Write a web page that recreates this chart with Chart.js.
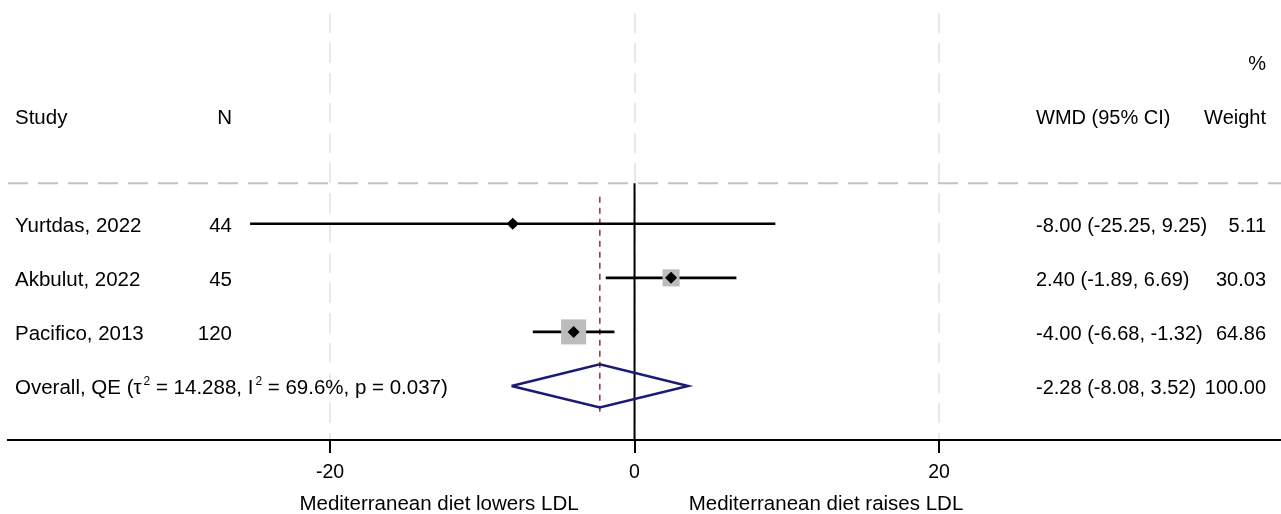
<!DOCTYPE html>
<html>
<head>
<meta charset="utf-8">
<script src="https://cdn.jsdelivr.net/npm/chart.js@4.4.1/dist/chart.umd.min.js"></script>
<style>
  html, body { margin: 0; padding: 0; background: #fff; }
  #wrap { width: 1281px; height: 514px; position: relative; }
  canvas { display: block; }
</style>
</head>
<body>
<div id="wrap"><canvas id="forest" width="1281" height="514"></canvas></div>
<script>
// ---- study-level results (weighted mean difference in LDL) ----
const studies    = ['Yurtdas, 2022', 'Akbulut, 2022', 'Pacifico, 2013'];
const sampleSize = [44, 45, 120];
const wmd        = [-8.00, 2.40, -4.00];
const ciLower    = [-25.25, -1.89, -6.68];
const ciUpper    = [9.25, 6.69, -1.32];
const weightPct  = [5.11, 30.03, 64.86];

// ---- pooled estimate ----
const overallLabel  = 'Overall, QE';
const overallWmd    = -2.28;
const overallLower  = -8.08;
const overallUpper  = 3.52;
const overallWeight = 100.00;
const tau2   = 14.288;
const i2     = 69.6;
const pValue = 0.037;

// ---- axis ----
const xTicks = [-20, 0, 20];
const favourLabels = ['Mediterranean diet lowers LDL', 'Mediterranean diet raises LDL'];

// ---- layout ----
const FONT = "'Liberation Sans', Arial, Helvetica, sans-serif";
const LEFT_SIZE = 20.5, RIGHT_SIZE = 20;
const X_MIN = -41.15, X_MAX = 42.46;
const Y_TOP = -2.9, Y_BOTTOM = 5;
const SEPARATOR_ROW = 0.25;
const COL_STUDY = 15, COL_N = 232, COL_EST = 1036, COL_WEIGHT = 1266;
const FAVOUR_X = [439, 826];

const rows = studies.map((_, i) => i + 1);
const overallRow = studies.length + 1;

const lineStyle = (color, width, dash) => ({
  showLine: true, fill: false, borderColor: color, borderWidth: width,
  borderDash: dash || [], pointRadius: 0, pointHoverRadius: 0, tension: 0
});

const datasets = [];

// dashed separator under the header
datasets.push(Object.assign({
  data: [{ x: X_MIN, y: SEPARATOR_ROW }, { x: X_MAX, y: SEPARATOR_ROW }], order: 9
}, lineStyle('#c2c2c2', 2, [20, 10])));

// line of no effect
datasets.push(Object.assign({
  data: [{ x: 0, y: SEPARATOR_ROW }, { x: 0, y: Y_BOTTOM }], order: 8
}, lineStyle('#000', 2)));

// pooled estimate reference line
datasets.push(Object.assign({
  data: [{ x: overallWmd, y: 0.5 }, { x: overallWmd, y: overallRow + 0.5 }], order: 7
}, lineStyle('#a23a46', 1.6, [6, 5])));

// confidence intervals
rows.forEach((r, i) => {
  datasets.push(Object.assign({
    data: [{ x: ciLower[i], y: r }, { x: ciUpper[i], y: r }], order: 6
  }, lineStyle('#000', 2.6)));
});

// weight boxes (area proportional to weight)
datasets.push({
  data: rows.map((r, i) => ({ x: wmd[i], y: r })),
  pointStyle: 'rect',
  pointRadius: weightPct.map(w => 2.2 * Math.sqrt(w)),
  pointHoverRadius: weightPct.map(w => 2.2 * Math.sqrt(w)),
  backgroundColor: '#bcbcbc', borderWidth: 0, showLine: false, order: 5
});

// point estimates
datasets.push({
  data: rows.map((r, i) => ({ x: wmd[i], y: r })),
  pointStyle: 'rectRot', pointRadius: 6, pointHoverRadius: 6,
  backgroundColor: '#000', borderWidth: 0, showLine: false, order: 4
});

// pooled diamond
datasets.push(Object.assign({
  data: [
    { x: overallLower, y: overallRow },
    { x: overallWmd, y: overallRow - 0.4 },
    { x: overallUpper, y: overallRow },
    { x: overallWmd, y: overallRow + 0.4 },
    { x: overallLower, y: overallRow }
  ],
  borderJoinStyle: 'miter', order: 3
}, lineStyle('#1b1b70', 2.5)));

const fmt = v => v.toFixed(2);

const tablePlugin = {
  id: 'forestTable',
  afterDraw(chart) {
    const { ctx, scales: { y } } = chart;
    const rowY = r => y.getPixelForValue(r) + 8.5;
    const leftFont = `${LEFT_SIZE}px ${FONT}`;
    const rightFont = `${RIGHT_SIZE}px ${FONT}`;
    ctx.save();
    ctx.fillStyle = '#000';
    ctx.textBaseline = 'alphabetic';
    const put = (t, x, r, align, font) => {
      ctx.font = font; ctx.textAlign = align; ctx.fillText(t, x, rowY(r));
    };

    put('%', COL_WEIGHT, -2, 'right', rightFont);
    put('Study', COL_STUDY, -1, 'left', leftFont);
    put('N', COL_N, -1, 'right', leftFont);
    put('WMD (95% CI)', COL_EST, -1, 'left', rightFont);
    put('Weight', COL_WEIGHT, -1, 'right', rightFont);

    rows.forEach((r, i) => {
      put(studies[i], COL_STUDY, r, 'left', leftFont);
      put(String(sampleSize[i]), COL_N, r, 'right', leftFont);
      put(`${fmt(wmd[i])} (${fmt(ciLower[i])}, ${fmt(ciUpper[i])})`, COL_EST, r, 'left', rightFont);
      put(fmt(weightPct[i]), COL_WEIGHT, r, 'right', rightFont);
    });

    // pooled row label with superscripts
    const runs = [
      [`${overallLabel} (τ`, false],
      ['2', true],
      [` = ${tau2.toFixed(3)}, I`, false],
      ['2', true],
      [` = ${i2.toFixed(1)}%, p = ${pValue.toFixed(3)})`, false]
    ];
    let cx = COL_STUDY;
    const by = rowY(overallRow);
    ctx.textAlign = 'left';
    runs.forEach(([t, sup]) => {
      if (sup) {
        ctx.font = `12px ${FONT}`;
        cx += 2;
        ctx.fillText(t, cx, by - 9);
        cx += ctx.measureText(t).width;
      } else {
        ctx.font = leftFont;
        ctx.fillText(t, cx, by);
        cx += ctx.measureText(t).width;
      }
    });
    put(`${fmt(overallWmd)} (${fmt(overallLower)}, ${fmt(overallUpper)})`, COL_EST, overallRow, 'left', rightFont);
    put(fmt(overallWeight), COL_WEIGHT, overallRow, 'right', rightFont);

    // direction labels under the axis
    ctx.font = leftFont;
    ctx.textAlign = 'center';
    ctx.fillText(favourLabels[0], FAVOUR_X[0], 510);
    ctx.fillText(favourLabels[1], FAVOUR_X[1], 510);
    ctx.restore();
  }
};

new Chart(document.getElementById('forest'), {
  type: 'scatter',
  data: { datasets },
  options: {
    responsive: false,
    animation: false,
    devicePixelRatio: 1,
    events: [],
    layout: { autoPadding: false, padding: { left: 8, right: 0, top: 13, bottom: 0 } },
    plugins: { legend: { display: false }, tooltip: { enabled: false }, title: { display: false } },
    scales: {
      x: {
        type: 'linear',
        position: 'bottom',
        min: X_MIN, max: X_MAX,
        afterBuildTicks: s => { s.ticks = xTicks.map(v => ({ value: v })); },
        afterFit: s => { s.height = 74; },
        ticks: {
          color: '#000', font: { family: FONT, size: 19.5 }, padding: 8,
          autoSkip: false, maxRotation: 0, callback: v => String(v)
        },
        grid: {
          color: '#e8e8e8', lineWidth: 2, drawTicks: true, tickLength: 13,
          tickColor: '#000', tickWidth: 2
        },
        border: { display: true, color: '#000', width: 2, dash: [20, 10] }
      },
      y: {
        type: 'linear', display: false, reverse: true,
        min: Y_TOP, max: Y_BOTTOM
      }
    }
  },
  plugins: [tablePlugin]
});
</script>
</body>
</html>
